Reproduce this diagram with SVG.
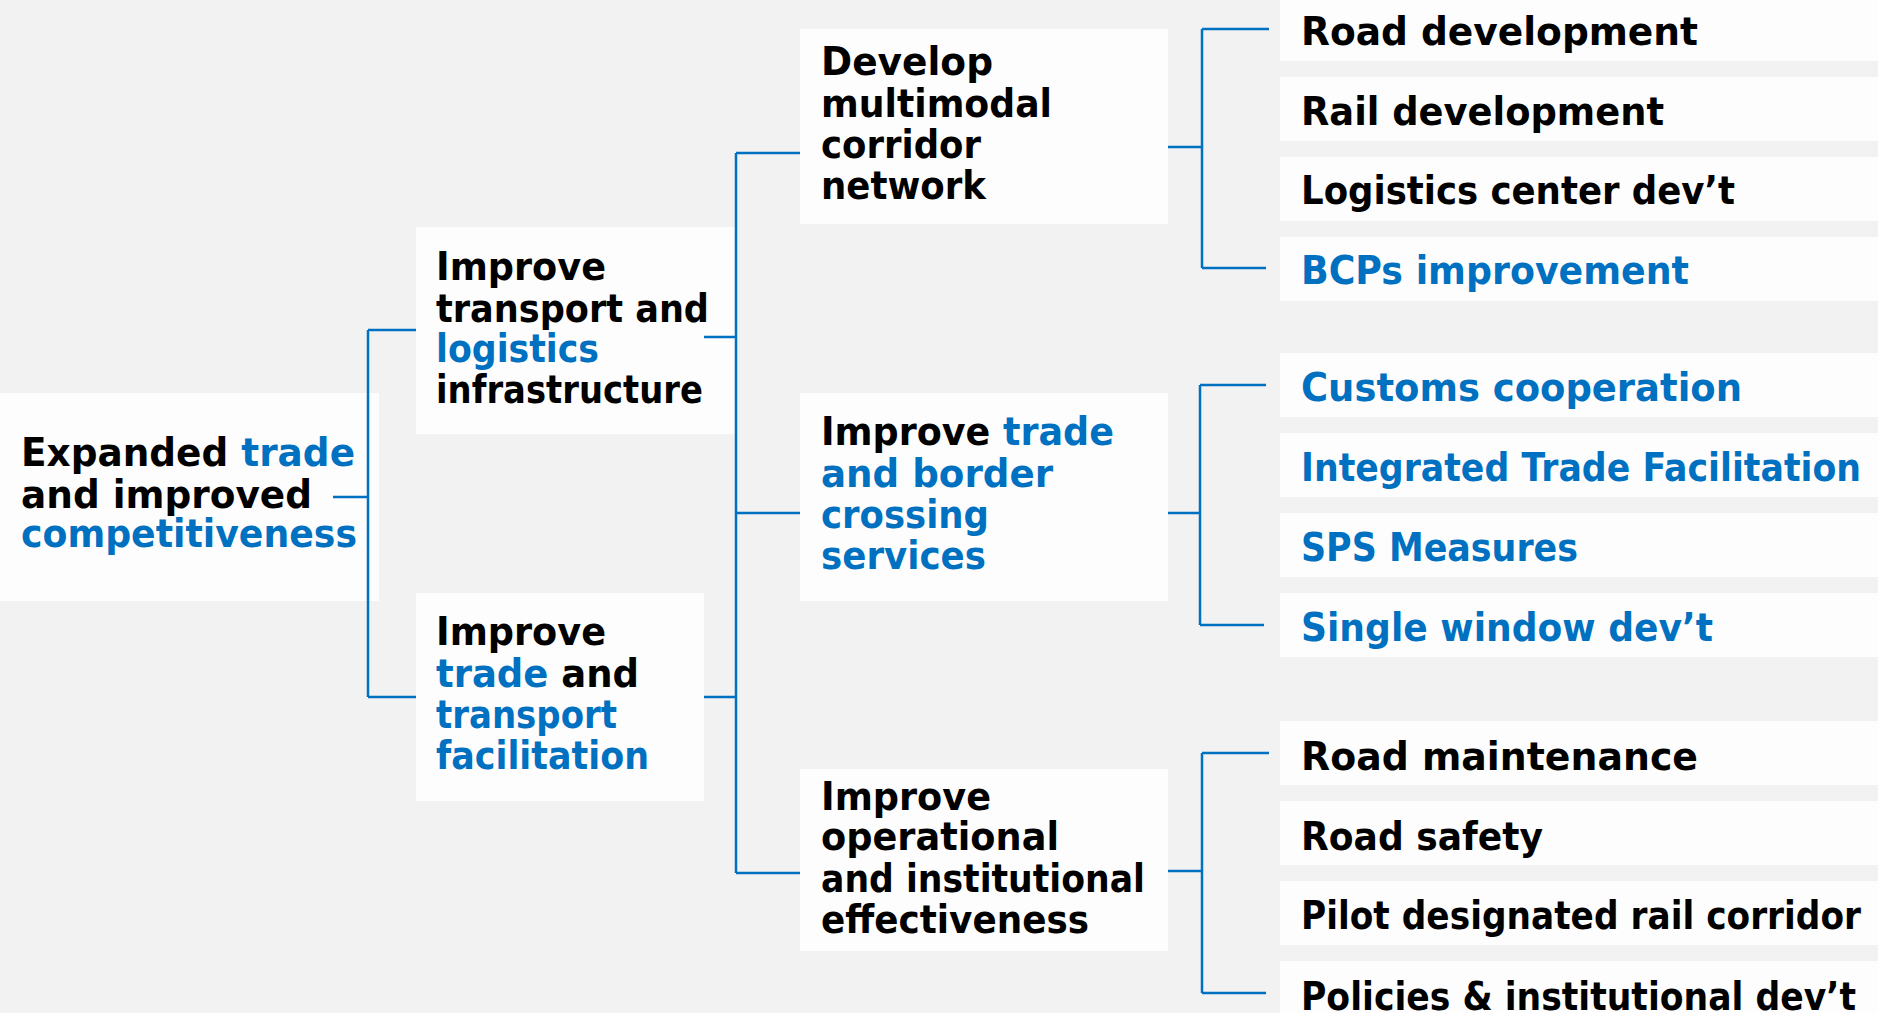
<svg xmlns="http://www.w3.org/2000/svg" width="1878" height="1013" viewBox="0 0 1878 1013">
<style>
.bg{fill:#F2F2F2}
.box{fill:#FDFDFD}
.t{font-family:"DejaVu Sans","Liberation Sans",sans-serif;font-weight:bold;font-size:39px;fill:#000}
.b{fill:#0070C0}
.c{stroke:#0070C0;stroke-width:2.5;fill:none}
</style>
<rect class="bg" x="0" y="0" width="1878" height="1013"/>
<g id="root">
<rect class="box" x="0" y="393" width="379" height="208"/>
<text class="t" x="21" y="466" textLength="334" lengthAdjust="spacingAndGlyphs">Expanded <tspan class="b">trade</tspan></text>
<text class="t" x="21" y="508" textLength="291" lengthAdjust="spacingAndGlyphs">and improved</text>
<text class="t b" x="21" y="547" textLength="336" lengthAdjust="spacingAndGlyphs">competitiveness</text>
</g>
<g id="n-transport-logistics">
<rect class="box" x="416" y="227" width="319" height="207"/>
<text class="t" x="436" y="280" textLength="170" lengthAdjust="spacingAndGlyphs">Improve</text>
<text class="t" x="436" y="322" textLength="273" lengthAdjust="spacingAndGlyphs">transport and</text>
<text class="t b" x="436" y="362" textLength="163" lengthAdjust="spacingAndGlyphs">logistics</text>
<text class="t" x="436" y="403" textLength="267" lengthAdjust="spacingAndGlyphs">infrastructure</text>
</g>
<g id="n-trade-transport">
<rect class="box" x="416" y="593" width="288" height="208"/>
<text class="t" x="436" y="645" textLength="170" lengthAdjust="spacingAndGlyphs">Improve</text>
<text class="t" x="436" y="687" textLength="203" lengthAdjust="spacingAndGlyphs"><tspan class="b">trade</tspan> and</text>
<text class="t b" x="436" y="728" textLength="181" lengthAdjust="spacingAndGlyphs">transport</text>
<text class="t b" x="436" y="769" textLength="213" lengthAdjust="spacingAndGlyphs">facilitation</text>
</g>
<g id="n-multimodal">
<rect class="box" x="800" y="29" width="368" height="195"/>
<text class="t" x="821" y="75" textLength="172" lengthAdjust="spacingAndGlyphs">Develop</text>
<text class="t" x="821" y="117" textLength="231" lengthAdjust="spacingAndGlyphs">multimodal</text>
<text class="t" x="821" y="158" textLength="160" lengthAdjust="spacingAndGlyphs">corridor</text>
<text class="t" x="821" y="199" textLength="165" lengthAdjust="spacingAndGlyphs">network</text>
</g>
<g id="n-border">
<rect class="box" x="800" y="393" width="368" height="208"/>
<text class="t" x="821" y="445" textLength="293" lengthAdjust="spacingAndGlyphs">Improve <tspan class="b">trade</tspan></text>
<text class="t b" x="821" y="487" textLength="232" lengthAdjust="spacingAndGlyphs">and border</text>
<text class="t b" x="821" y="528" textLength="168" lengthAdjust="spacingAndGlyphs">crossing</text>
<text class="t b" x="821" y="569" textLength="165" lengthAdjust="spacingAndGlyphs">services</text>
</g>
<g id="n-operational">
<rect class="box" x="800" y="769" width="368" height="182"/>
<text class="t" x="821" y="810" textLength="170" lengthAdjust="spacingAndGlyphs">Improve</text>
<text class="t" x="821" y="850" textLength="238" lengthAdjust="spacingAndGlyphs">operational</text>
<text class="t" x="821" y="892" textLength="324" lengthAdjust="spacingAndGlyphs">and institutional</text>
<text class="t" x="821" y="933" textLength="268" lengthAdjust="spacingAndGlyphs">effectiveness</text>
</g>
<g id="leaf-road-dev"><rect class="box" x="1280" y="-3" width="598" height="64"/><text class="t" x="1301" y="45" textLength="397" lengthAdjust="spacingAndGlyphs">Road development</text></g>
<g id="leaf-rail-dev"><rect class="box" x="1280" y="77" width="598" height="64"/><text class="t" x="1301" y="125" textLength="363" lengthAdjust="spacingAndGlyphs">Rail development</text></g>
<g id="leaf-logistics"><rect class="box" x="1280" y="157" width="598" height="64"/><text class="t" x="1301" y="204" textLength="434" lengthAdjust="spacingAndGlyphs">Logistics center dev’t</text></g>
<g id="leaf-bcps"><rect class="box" x="1280" y="237" width="598" height="64"/><text class="t b" x="1301" y="284" textLength="388" lengthAdjust="spacingAndGlyphs">BCPs improvement</text></g>
<g id="leaf-customs"><rect class="box" x="1280" y="353" width="598" height="64"/><text class="t b" x="1301" y="401" textLength="441" lengthAdjust="spacingAndGlyphs">Customs cooperation</text></g>
<g id="leaf-itf"><rect class="box" x="1280" y="433" width="598" height="64"/><text class="t b" x="1301" y="481" textLength="560" lengthAdjust="spacingAndGlyphs">Integrated Trade Facilitation</text></g>
<g id="leaf-sps"><rect class="box" x="1280" y="513" width="598" height="64"/><text class="t b" x="1301" y="561" textLength="277" lengthAdjust="spacingAndGlyphs">SPS Measures</text></g>
<g id="leaf-single-window"><rect class="box" x="1280" y="593" width="598" height="64"/><text class="t b" x="1301" y="641" textLength="412" lengthAdjust="spacingAndGlyphs">Single window dev’t</text></g>
<g id="leaf-road-maint"><rect class="box" x="1280" y="721" width="598" height="64"/><text class="t" x="1301" y="770" textLength="397" lengthAdjust="spacingAndGlyphs">Road maintenance</text></g>
<g id="leaf-road-safety"><rect class="box" x="1280" y="801" width="598" height="64"/><text class="t" x="1301" y="850" textLength="242" lengthAdjust="spacingAndGlyphs">Road safety</text></g>
<g id="leaf-pilot-rail"><rect class="box" x="1280" y="881" width="598" height="64"/><text class="t" x="1301" y="929" textLength="560" lengthAdjust="spacingAndGlyphs">Pilot designated rail corridor</text></g>
<g id="leaf-policies"><rect class="box" x="1280" y="961" width="598" height="64"/><text class="t" x="1301" y="1010" textLength="555" lengthAdjust="spacingAndGlyphs">Policies &amp; institutional dev’t</text></g>
<g id="connectors">
<path class="c" d="M333 497H368M368 330V697M368 330H416M368 697H416"/>
<path class="c" d="M704 337H736M704 697H736M736 153V873M736 153H800M736 513H800M736 873H800"/>
<path class="c" d="M1168 147H1202M1202 29V268M1202 29H1269M1202 268H1266"/>
<path class="c" d="M1168 513H1200M1200 385V625M1200 385H1266M1200 625H1264"/>
<path class="c" d="M1168 871H1202M1202 753V993M1202 753H1269M1202 993H1266"/>
</g>
</svg>
